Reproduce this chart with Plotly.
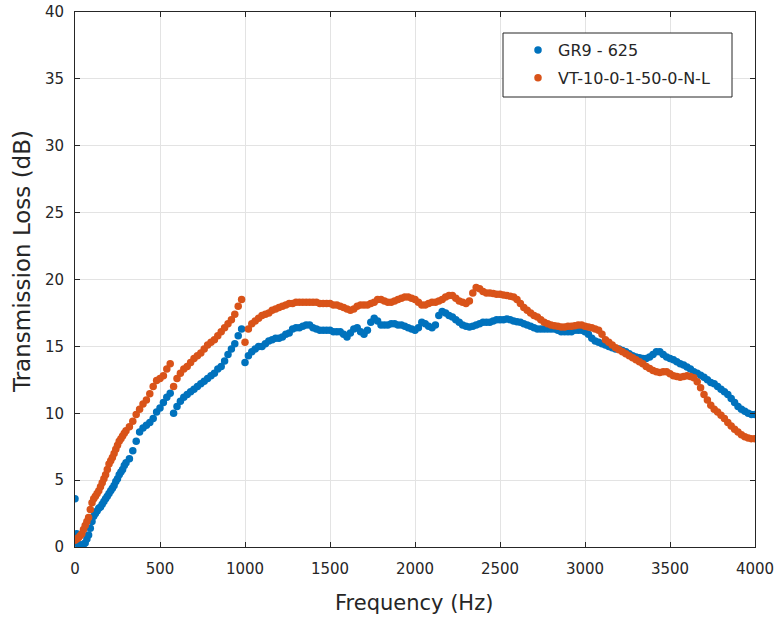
import plotly.graph_objects as go

# frequency grid: 10 Hz steps up to 300 Hz, 20 Hz steps above
freq = list(range(0, 301, 10)) + list(range(320, 4001, 20))

gr9_625 = [
    3.6, 1.0, 0.2, 0.1, 0.1, 0.2, 0.3, 0.6, 0.9, 1.4,
    1.9, 2.3, 2.5, 2.7, 2.9, 3.0, 3.2, 3.4, 3.6, 3.8,
    4.0, 4.2, 4.4, 4.6, 4.9, 5.1, 5.4, 5.6, 5.8, 6.1,
    6.3,
    6.6, 7.2, 7.9, 8.6,
    8.9, 9.1, 9.3, 9.6, 10.1, 10.4, 10.8, 11.2, 11.5, 10.0,
    10.5, 10.9, 11.2, 11.4, 11.6, 11.8, 12.0, 12.2, 12.4, 12.6,
    12.8, 13.0, 13.3, 13.5, 13.9, 14.4, 14.8, 15.2, 15.8, 16.3,
    13.8, 14.3, 14.6, 14.8, 15.0, 15.0, 15.2, 15.4, 15.5, 15.6,
    15.6, 15.7, 15.9, 16.0, 16.3, 16.4, 16.4, 16.5, 16.6, 16.6,
    16.4, 16.3, 16.2, 16.2, 16.2, 16.2, 16.1, 16.1, 16.1, 15.9,
    15.7, 16.0, 16.3, 16.4, 16.1, 15.9, 16.2, 16.8, 17.1, 16.9,
    16.6, 16.6, 16.6, 16.7, 16.7, 16.6, 16.6, 16.5, 16.4, 16.3,
    16.2, 16.4, 16.8, 16.7, 16.5, 16.4, 16.6, 17.3, 17.6, 17.5,
    17.3, 17.2, 17.0, 16.8, 16.6, 16.5, 16.45, 16.5, 16.6, 16.7,
    16.8, 16.8, 16.8, 16.9, 17.0, 17.0, 17.0, 17.05, 17.0, 16.9,
    16.85, 16.8, 16.7, 16.6, 16.5, 16.4, 16.3, 16.3, 16.3, 16.3,
    16.3, 16.3, 16.2, 16.1, 16.1, 16.1, 16.1, 16.2, 16.2, 16.2,
    16.1, 15.9, 15.6, 15.4, 15.3, 15.2, 15.1, 15.0, 14.9, 14.8,
    14.8, 14.7, 14.6, 14.45, 14.3, 14.2, 14.15, 14.1, 14.1, 14.2,
    14.4, 14.6, 14.6, 14.4, 14.2, 14.1, 14.0, 13.85, 13.7, 13.6,
    13.45, 13.3, 13.1, 13.0, 12.85, 12.7, 12.5, 12.3, 12.2, 12.0,
    11.8, 11.6, 11.4, 11.1, 10.8, 10.5, 10.3, 10.15, 10.0, 9.9,
    9.9,
]

vt_10_0_1_50_0_n_l = [
    0.5, 0.6, 0.7, 0.85, 1.0, 1.3, 1.6, 1.9, 2.2, 2.8,
    3.3, 3.6, 3.8, 4.0, 4.2, 4.5, 4.8, 5.1, 5.4, 5.8,
    6.2, 6.45, 6.7, 7.0, 7.3, 7.6, 7.9, 8.1, 8.3, 8.5,
    8.7,
    9.0, 9.4, 9.9, 10.3,
    10.7, 11.0, 11.45, 12.0, 12.45, 12.6, 12.8, 13.3, 13.7, 12.0,
    12.6, 13.0, 13.3, 13.5, 13.8, 14.1, 14.3, 14.5, 14.8, 15.1,
    15.3, 15.5, 15.8, 16.1, 16.4, 16.7, 17.0, 17.4, 18.0, 18.5,
    15.3, 16.3, 16.7, 16.9, 17.1, 17.3, 17.4, 17.5, 17.7, 17.8,
    17.9, 18.0, 18.1, 18.2, 18.2, 18.3, 18.3, 18.3, 18.3, 18.3,
    18.3, 18.3, 18.2, 18.2, 18.2, 18.2, 18.1, 18.1, 18.0, 17.9,
    17.8, 17.7, 17.8, 18.0, 18.1, 18.1, 18.1, 18.2, 18.3, 18.5,
    18.5, 18.4, 18.3, 18.3, 18.4, 18.5, 18.6, 18.7, 18.7, 18.6,
    18.5, 18.3, 18.1, 18.1, 18.2, 18.3, 18.3, 18.4, 18.5, 18.7,
    18.8, 18.8, 18.6, 18.4, 18.3, 18.2, 18.4, 19.0, 19.4, 19.3,
    19.1, 19.0, 19.0, 18.95, 18.9, 18.9, 18.85, 18.8, 18.75, 18.7,
    18.5, 18.2, 17.9, 17.7, 17.5, 17.3, 17.2, 17.0, 16.8, 16.7,
    16.6, 16.55, 16.5, 16.45, 16.45, 16.5, 16.5, 16.55, 16.6, 16.6,
    16.5, 16.45, 16.4, 16.3, 16.2, 15.9, 15.5, 15.3, 15.1, 14.9,
    14.75, 14.6, 14.45, 14.3, 14.15, 14.0, 13.85, 13.7, 13.5, 13.35,
    13.2, 13.1, 13.05, 13.1, 13.1, 12.95, 12.8, 12.75, 12.7, 12.75,
    12.8, 12.75, 12.65, 12.35, 11.9, 11.4, 11.0, 10.6, 10.3, 10.1,
    9.85, 9.6, 9.3, 9.05, 8.8, 8.6, 8.4, 8.25, 8.15, 8.1,
    8.1,
]

x_ticks = [0, 500, 1000, 1500, 2000, 2500, 3000, 3500, 4000]
y_ticks = [0, 5, 10, 15, 20, 25, 30, 35, 40]

FONT = "DejaVu Sans, Verdana, sans-serif"
TXT = "#262626"

W, H = 778, 620
ML, MR, MT, MB = 75, 23, 12, 73
PW, PH = W - ML - MR, H - MT - MB


def px_x(px):
    return (px - ML) / PW


def px_y(py):
    return (H - MB - py) / PH


fig = go.Figure()
fig.add_trace(go.Scatter(
    x=freq, y=gr9_625, mode="markers", name="GR9 - 625", legendgroup="a",
    marker=dict(color="#0072BD", size=7.5, line=dict(width=0)),
))
fig.add_trace(go.Scatter(
    x=freq, y=vt_10_0_1_50_0_n_l, mode="markers", name="VT-10-0-1-50-0-N-L", legendgroup="b",
    marker=dict(color="#D95319", size=7.5, line=dict(width=0)),
))

axis_common = dict(
    showline=True, linecolor=TXT, linewidth=1, mirror="ticks",
    ticks="inside", ticklen=5, tickcolor=TXT,
    showgrid=True, gridcolor="#e3e3e3", gridwidth=1, zeroline=False,
    automargin=False,
    tickfont=dict(family=FONT, size=15, color=TXT),
)

fig.update_layout(
    width=W, height=H,
    margin=dict(l=ML, r=MR, t=MT, b=MB),
    paper_bgcolor="white", plot_bgcolor="white",
    showlegend=True,
    legend=dict(
        x=px_x(518), y=px_y(33), xanchor="left", yanchor="top",
        bgcolor="rgba(0,0,0,0)", borderwidth=0,
        font=dict(family=FONT, size=16, color=TXT),
        traceorder="grouped", tracegroupgap=4,
        itemsizing="trace",
    ),
    xaxis=dict(range=[0, 4000], tickvals=x_ticks, ticklabelstandoff=8, **axis_common),
    yaxis=dict(range=[0, 40], tickvals=y_ticks, ticklabelstandoff=7, **axis_common),
    shapes=[dict(
        type="rect", xref="paper", yref="paper",
        x0=px_x(503), x1=px_x(732), y0=px_y(97), y1=px_y(33),
        line=dict(color=TXT, width=1), fillcolor="white", layer="above",
    )],
    annotations=[
        dict(text="Frequency (Hz)", xref="paper", yref="paper",
             x=px_x(414), y=px_y(603), xanchor="center", yanchor="middle",
             showarrow=False, font=dict(family=FONT, size=21, color=TXT)),
        dict(text="Transmission Loss (dB)", xref="paper", yref="paper",
             x=px_x(22), y=px_y(262), xanchor="center", yanchor="middle",
             textangle=-90, showarrow=False, font=dict(family=FONT, size=23, color=TXT)),
    ],
)

fig.write_html("out.html")
